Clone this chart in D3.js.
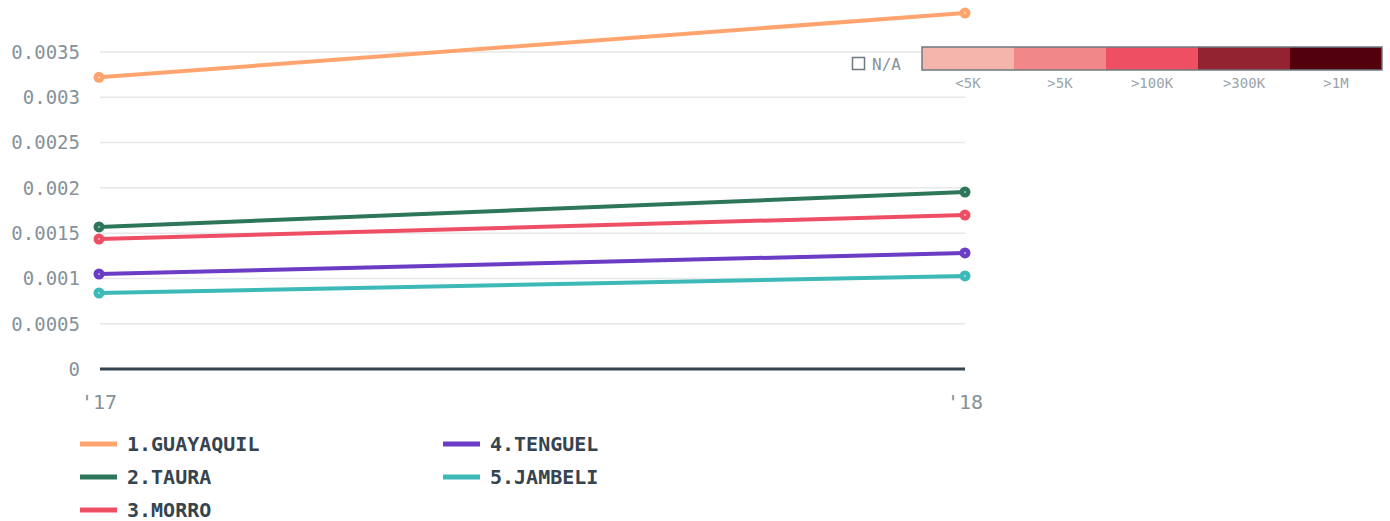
<!DOCTYPE html>
<html>
<head>
<meta charset="UTF-8">
<title>Ecuador chart</title>
<script src="https://d3js.org/d3.v7.min.js"></script>
<style>
  body { margin: 0; background: #fff; }
  text { font-family: "DejaVu Sans Mono", monospace; }
</style>
</head>
<body>
<svg class="chart"></svg>
<script>
const years = ["'17", "'18"];
const names = ["1.GUAYAQUIL", "2.TAURA", "3.MORRO", "4.TENGUEL", "5.JAMBELI"];
const guayaquil = [0.00322, 0.00393];
const taura = [0.001568, 0.001954];
const morro = [0.001435, 0.0017];
const tenguel = [0.001049, 0.001281];
const jambeli = [0.000839, 0.001027];
const yTicks = [0, 0.0005, 0.001, 0.0015, 0.002, 0.0025, 0.003, 0.0035];
const scaleLabels = ["<5K", ">5K", ">100K", ">300K", ">1M"];

const colors = ["#ffa46e", "#2e7659", "#ef4f65", "#6b3cc6", "#3db9b8"];
const scaleColors = ["#f4b6ac", "#f18788", "#ef4f63", "#932331", "#52000c"];
const seriesVals = [guayaquil, taura, morro, tenguel, jambeli];

const width = 1390, height = 521;
const svg = d3.select(".chart").attr("width", width).attr("height", height);

const x = d3.scalePoint().domain(years).range([99, 965]);
const y = d3.scaleLinear().domain([0, 0.0035]).range([369, 52]);

// gridlines
svg.append("g").selectAll("line")
    .data(yTicks.filter(d => d > 0)).enter().append("line")
    .attr("x1", 100).attr("x2", 965)
    .attr("y1", d => y(d)).attr("y2", d => y(d))
    .style("stroke", "#e6e8e9").style("stroke-width", 1.5);

// y labels
svg.append("g").selectAll("text")
    .data(yTicks).enter().append("text")
    .attr("x", 80).attr("y", d => y(d))
    .attr("dy", "0.36em")
    .attr("text-anchor", "end")
    .style("font-size", "19px")
    .style("fill", "#86929a")
    .text(d => d3.format("")(d));

// zero baseline
svg.append("line")
    .attr("x1", 100).attr("x2", 965)
    .attr("y1", y(0)).attr("y2", y(0))
    .style("stroke", "#35444f").style("stroke-width", 3);

// x labels
svg.append("g").selectAll("text")
    .data(years).enter().append("text")
    .attr("x", d => x(d)).attr("y", 409)
    .attr("text-anchor", "middle")
    .style("font-size", "20px")
    .style("fill", "#86929a")
    .text(d => d);

// lines
const line = d3.line().x((d, i) => x(years[i])).y(d => y(d));
seriesVals.forEach((vals, k) => {
    const g = svg.append("g");
    g.append("path")
        .attr("d", line(vals))
        .style("fill", "none")
        .style("stroke", colors[k])
        .style("stroke-width", 4);
    g.selectAll("circle")
        .data(vals).enter().append("circle")
        .attr("cx", (d, i) => x(years[i]))
        .attr("cy", d => y(d))
        .attr("r", 5.5)
        .style("fill", colors[k]);
    g.selectAll(".dot")
        .data(vals).enter().append("circle")
        .attr("cx", (d, i) => x(years[i]))
        .attr("cy", d => y(d))
        .attr("r", 0.8)
        .style("fill", "#fff");
});

// series legend
const legend = svg.append("g").selectAll("g")
    .data(names).enter().append("g")
    .attr("transform", (d, i) => `translate(${i < 3 ? 80 : 443}, ${444 + (i % 3) * 33})`);
legend.append("line")
    .attr("x1", 0).attr("x2", 37)
    .style("stroke", (d, i) => colors[i])
    .style("stroke-width", 5);
legend.append("text")
    .attr("x", 47).attr("dy", "0.36em")
    .style("font-size", "20px")
    .style("font-weight", "bold")
    .style("fill", "#36444f")
    .text(d => d);

// colour scale legend
const sx = d3.scaleBand().domain(scaleLabels).range([922, 1382]);
const scaleG = svg.append("g");
scaleG.selectAll("rect")
    .data(scaleLabels).enter().append("rect")
    .attr("x", d => sx(d)).attr("y", 47)
    .attr("width", sx.bandwidth()).attr("height", 23)
    .style("fill", (d, i) => scaleColors[i]);
scaleG.append("rect")
    .attr("x", 922).attr("y", 47)
    .attr("width", 460).attr("height", 23)
    .style("fill", "none")
    .style("stroke", "#6d7a82").style("stroke-width", 1.5);
scaleG.selectAll("text")
    .data(scaleLabels).enter().append("text")
    .attr("x", d => sx(d) + sx.bandwidth() / 2)
    .attr("y", 88)
    .attr("text-anchor", "middle")
    .style("font-size", "14px")
    .style("fill", "#9aa4aa")
    .text(d => d);

// N/A
svg.append("rect")
    .attr("x", 852.5).attr("y", 57.5)
    .attr("width", 12).attr("height", 12)
    .style("fill", "#fff")
    .style("stroke", "#6d7a82").style("stroke-width", 1.5);
svg.append("text")
    .attr("x", 872).attr("y", 70)
    .style("font-size", "16px")
    .style("fill", "#86929a")
    .text("N/A");
</script>
</body>
</html>
